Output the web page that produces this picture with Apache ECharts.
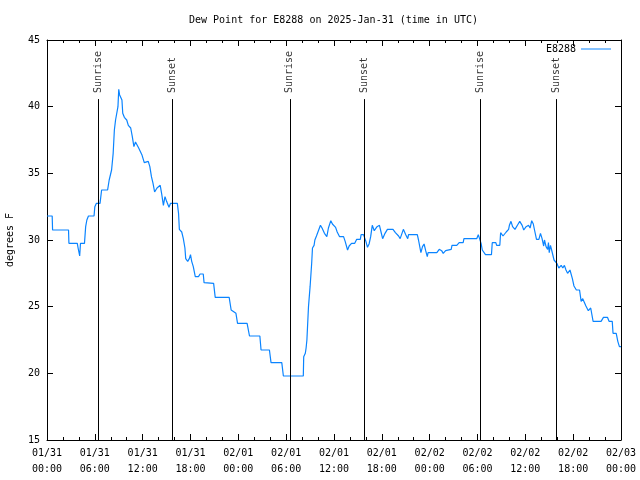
<!DOCTYPE html>
<html>
<head>
<meta charset="utf-8">
<script src="https://cdn.jsdelivr.net/npm/echarts@6/dist/echarts.min.js"></script>
<style>html,body{margin:0;padding:0;background:#fff;}#c{width:640px;height:480px;}</style>
</head>
<body>
<div id="c"></div>
<script>
// hours since 2025-01-31 00:00 UTC
const dewHours = [0,0.65,0.7,2.7,2.75,3.8,3.9,4.0,4.1,4.2,4.7,4.85,5.0,5.2,5.9,6.0,6.2,6.65,6.85,7.6,7.8,8.1,8.3,8.45,8.6,8.9,9.0,9.1,9.2,9.4,9.5,9.7,10.0,10.2,10.5,10.7,10.9,11.1,11.5,11.9,12.2,12.4,12.7,12.9,13.1,13.3,13.5,13.8,14.0,14.2,14.4,14.6,14.8,15.0,15.3,15.5,16.35,16.5,16.6,16.9,17.1,17.3,17.4,17.65,17.85,18.0,18.15,18.35,18.6,19.0,19.2,19.6,19.7,19.8,20.9,21.1,22.85,23.1,23.7,23.9,25.1,25.4,26.7,26.85,27.9,28.1,29.45,29.65,32.15,32.2,32.4,32.5,32.6,32.8,33.0,33.2,33.3,33.5,33.6,33.8,34.0,34.3,34.5,34.8,35.1,35.3,35.6,35.8,36.0,36.2,36.4,36.7,37.2,37.4,37.7,37.9,38.2,38.6,38.85,39.3,39.4,39.7,40.0,40.2,40.4,40.6,40.8,41.05,41.4,41.7,41.9,42.1,42.4,42.7,43.4,43.7,44.1,44.3,44.5,44.7,45.0,45.25,45.35,46.45,46.6,46.9,47.1,47.3,47.5,47.7,47.8,48.9,49.2,49.5,49.7,50.0,50.2,50.7,50.8,51.4,51.7,52.2,52.3,53.9,54.1,54.3,54.45,54.6,54.85,55.0,55.75,55.85,56.3,56.4,56.8,56.9,57.2,57.4,57.6,57.9,58.0,58.2,58.4,58.7,59.1,59.3,59.6,59.8,60.1,60.4,60.6,60.8,61.0,61.1,61.4,61.7,61.9,62.1,62.3,62.4,62.6,62.8,62.9,63.0,63.15,63.3,63.6,63.85,63.95,64.2,64.4,64.5,64.7,64.9,65.1,65.3,65.6,65.8,65.9,66.1,66.4,66.6,66.8,67.0,67.2,67.4,67.6,67.9,68.2,68.35,68.5,69.5,69.8,70.3,70.5,70.9,71.0,71.4,71.6,71.8,72.0];
const dewValues = [31.8,31.8,30.75,30.75,29.75,29.75,29.4,29.1,28.8,29.75,29.75,31.0,31.5,31.8,31.8,32.5,32.75,32.75,33.75,33.75,34.5,35.25,36.5,38.25,39.0,40.0,41.3,40.9,41.0,40.5,39.5,39.2,39.0,38.6,38.4,37.75,37.0,37.35,36.9,36.4,35.8,35.9,35.9,35.5,34.75,34.25,33.6,33.9,33.75,34.1,33.4,32.6,33.25,32.9,32.45,32.75,32.75,32.0,30.8,30.6,30.1,29.4,28.6,28.4,28.6,28.9,28.4,28.0,27.25,27.25,27.45,27.45,26.8,26.75,26.75,25.7,25.7,24.75,24.5,23.75,23.75,22.8,22.8,21.75,21.75,20.8,20.8,19.8,19.8,21.25,21.5,21.9,22.5,25.0,26.5,28.25,29.4,29.6,30.0,30.3,30.4,31.1,30.9,30.5,30.25,30.9,31.45,31.2,31.1,30.95,30.6,30.25,30.25,29.9,29.25,29.55,29.75,29.75,30.05,30.05,30.4,30.4,29.9,29.45,29.7,30.25,31.1,30.7,31.0,31.1,30.6,30.1,30.5,30.8,30.8,30.55,30.3,30.1,30.1,30.8,30.4,30.1,30.4,30.4,30.0,29.05,29.5,29.7,29.2,28.75,29.05,29.05,29.3,29.2,29.0,29.2,29.3,29.3,29.6,29.6,29.8,29.8,30.1,30.1,30.4,30.45,29.75,29.25,29.1,28.9,28.9,29.8,29.8,29.6,29.6,30.55,30.3,30.3,30.6,30.8,31.1,31.4,31.0,30.8,31.2,31.4,31.1,30.75,31.0,31.1,30.9,31.45,31.2,30.9,30.05,30.05,30.5,30.1,29.55,30.0,29.5,29.3,29.8,29.05,29.6,29.25,28.5,28.5,28.25,27.9,27.9,28.1,27.9,28.1,27.75,27.5,27.75,27.7,27.1,26.55,26.25,26.4,26.25,25.4,25.6,25.6,25.05,24.7,24.9,24.9,23.9,23.9,24.2,24.2,23.9,23.9,23.0,23.0,22.4,22.0,22.0];
const eventHours = [6.4, 15.7, 30.45, 39.76, 54.4, 63.9];
const eventLabels = ['Sunrise','Sunset','Sunrise','Sunset','Sunrise','Sunset'];
const xTickLabels = ['01/31\n00:00','01/31\n06:00','01/31\n12:00','01/31\n18:00','02/01\n00:00','02/01\n06:00','02/01\n12:00','02/01\n18:00','02/02\n00:00','02/02\n06:00','02/02\n12:00','02/02\n18:00','02/03\n00:00'];
const yTicks = [15,20,25,30,35,40,45];
const seriesName = 'E8288';
const titleText = 'Dew Point for E8288 on 2025-Jan-31 (time in UTC)';
const yAxisName = 'degrees F';

const FONT = 'DejaVu Sans Mono';
const LINE_TOP = 40.57;
const chart = echarts.init(document.getElementById('c'), null, {renderer:'canvas'});
const tickCommon = {show:true, inside:true, length:6, lineStyle:{color:'#000', width:1}};
const minorCommon = {show:true, splitNumber:3, length:3, lineStyle:{color:'#000', width:1}};
const xBase = {type:'value', min:0, max:72, interval:6,
  axisLine:{show:true, onZero:false, lineStyle:{color:'#000', width:1}},
  splitLine:{show:false}};
const yBase = {type:'value', min:15, max:45, interval:5,
  axisLine:{show:true, onZero:false, lineStyle:{color:'#000', width:1}},
  splitLine:{show:false}};
chart.setOption({
  animation:false,
  backgroundColor:'#fff',
  textStyle:{fontFamily:FONT},
  title:{text:titleText, left:184, top:10, textStyle:{fontFamily:FONT, fontSize:10, fontWeight:'normal', color:'#000'}},
  legend:{data:[seriesName], right:24, top:39, align:'right', icon:'rect', itemWidth:30, itemHeight:1, itemGap:5,
    textStyle:{fontFamily:FONT, fontSize:10, color:'#000'}},
  grid:{left:47, right:19, top:40, bottom:40, containLabel:false, outerBoundsMode:'none'},
  xAxis:[
    Object.assign({}, xBase, {position:'bottom',
      axisTick:tickCommon, minorTick:minorCommon,
      axisLabel:{show:true, margin:5, fontFamily:FONT, fontSize:10, color:'#000', lineHeight:16,
        formatter:(v)=> xTickLabels[Math.round(v/6)]}}),
    Object.assign({}, xBase, {position:'top',
      axisTick:tickCommon, minorTick:minorCommon, axisLabel:{show:false}})
  ],
  yAxis:[
    Object.assign({}, yBase, {position:'left',
      name:yAxisName, nameLocation:'middle', nameGap:32, nameRotate:90,
      nameTextStyle:{fontFamily:FONT, fontSize:10, color:'#000'},
      axisTick:tickCommon,
      axisLabel:{show:true, margin:7, fontFamily:FONT, fontSize:10, color:'#000',
        formatter:(v)=> yTicks.indexOf(v) >= 0 ? String(v) : ''}}),
    Object.assign({}, yBase, {position:'right', axisTick:tickCommon, axisLabel:{show:false}})
  ],
  series:[
    {
      name:'events', type:'scatter', symbolSize:0, silent:true, z:1,
      data: eventHours.map(h=>[h, LINE_TOP]),
      label:{show:true, position:'top', distance:6, rotate:90, align:'left', verticalAlign:'middle',
        fontFamily:FONT, fontSize:10, color:'#000', formatter:(p)=> eventLabels[p.dataIndex]},
      markLine:{silent:true, symbol:'none', animation:false,
        lineStyle:{color:'#000', width:1, type:'solid'}, label:{show:false},
        data: eventHours.map(h=>[{coord:[h,15]},{coord:[h,LINE_TOP]}])}
    },
    {
      name:seriesName, type:'line', showSymbol:false, symbol:'none', z:3,
      lineStyle:{color:'#0a84ff', width:1.2},
      itemStyle:{color:'#0a84ff'},
      data: dewHours.map((h,i)=>[h, dewValues[i]])
    }
  ]
});
</script>
</body>
</html>
